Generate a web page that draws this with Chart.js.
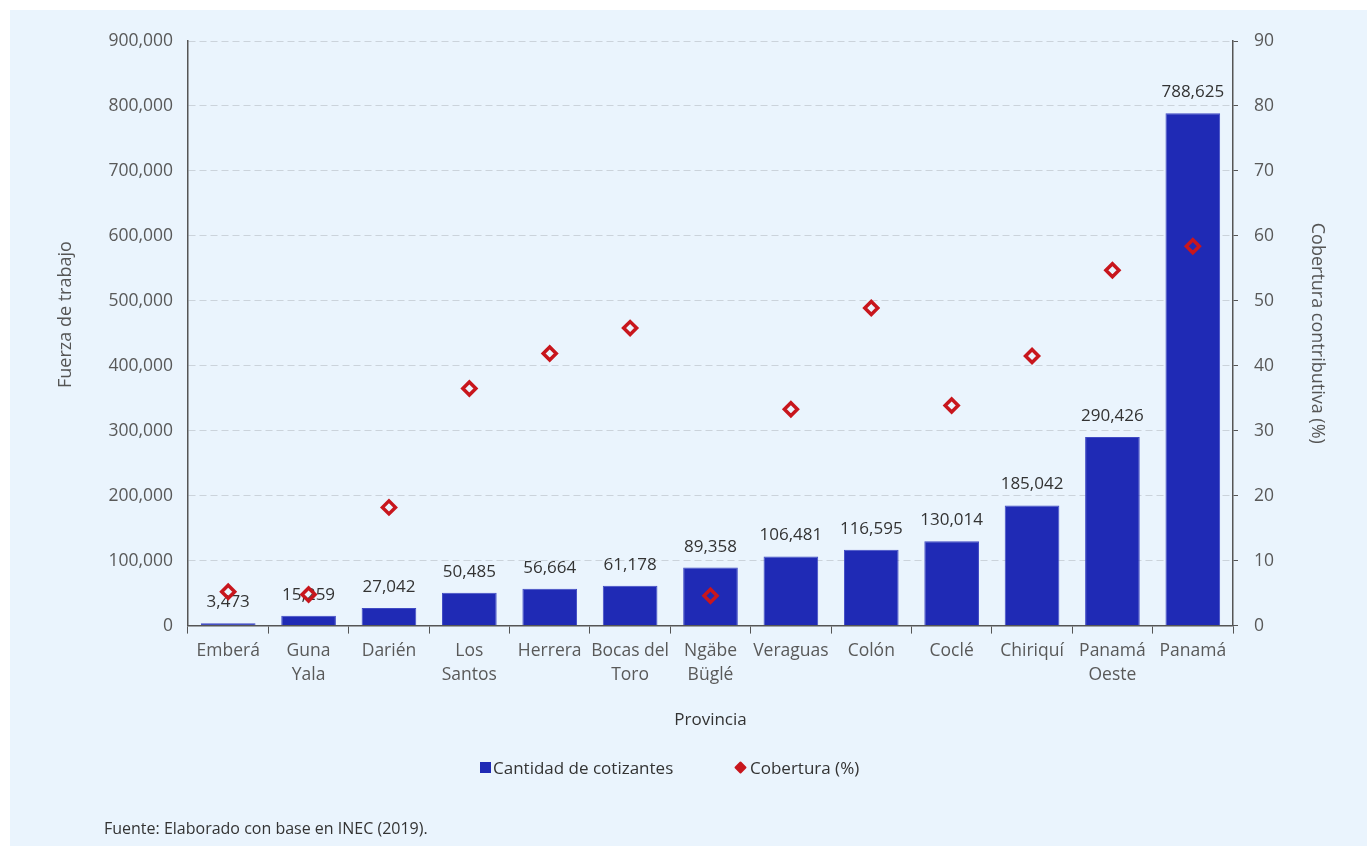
<!DOCTYPE html>
<html>
<head>
<meta charset="utf-8">
<script src="https://cdn.jsdelivr.net/npm/chart.js@4.4.1/dist/chart.umd.min.js"></script>
<style>
  body { margin: 0; background: #ffffff; font-family: "Open Sans", sans-serif; }
  #panel { position: absolute; left: 10px; top: 10px; width: 1357px; height: 836px; background: #eaf4fd; }
  #wrap { position: absolute; left: 0; top: 0; width: 1357px; height: 836px; }
  .leg { position: absolute; top: 746px; font-size: 17px; line-height: 24px; color: #333; white-space: nowrap; }
  .leg i { display: inline-block; vertical-align: middle; position: relative; top: -2px; }
  #leg1 { left: 470px; }
  #leg1 i { width: 11px; height: 11px; background: #1f2ab5; margin-right: 2px; }
  #leg2 { left: 726px; }
  #leg2 i { width: 9px; height: 9px; background: #c8161d; transform: rotate(45deg); margin-right: 5px; border-radius: 1px; }
  #fuente { position: absolute; left: 94px; top: 807px; font-size: 16px; color: #333; }
</style>
</head>
<body>
<div id="panel">
  <div id="wrap"><canvas id="myChart"></canvas></div>
  <div class="leg" id="leg1"><i></i>Cantidad de cotizantes</div>
  <div class="leg" id="leg2"><i></i>Cobertura (%)</div>
  <div id="fuente">Fuente: Elaborado con base en INEC (2019).</div>
</div>
<script>
var provincias = [
  "Emberá", ["Guna", "Yala"], "Darién", ["Los", "Santos"], "Herrera", ["Bocas del", "Toro"],
  ["Ngäbe", "Büglé"], "Veraguas", "Colón", "Coclé", "Chiriquí", ["Panamá", "Oeste"], "Panamá"
]
var cotizantes = [3473, 15259, 27042, 50485, 56664, 61178, 89358, 106481, 116595, 130014, 185042, 290426, 788625]
var cobertura = [5.2, 4.8, 18.2, 36.5, 41.9, 45.8, 4.6, 33.3, 48.9, 33.9, 41.5, 54.7, 58.4]

var azul = "#1f2ab5"
var rojo = "#c8161d"
var gris = "#555555"
var fuente = "'Open Sans'"

// value labels over the bars, drawn before the markers so they sit underneath
var barLabels = {
  id: "barLabels",
  afterDatasetDraw: function(chart, args) {
    if (args.index !== 0) return
    var ctx = chart.ctx
    ctx.save()
    ctx.font = "17px " + fuente
    ctx.fillStyle = "#333333"
    ctx.textAlign = "center"
    ctx.textBaseline = "alphabetic"
    args.meta.data.forEach(function(bar, i) {
      ctx.fillText(cotizantes[i].toLocaleString("en-US"), bar.x, bar.y - 16)
    })
    ctx.restore()
  }
}

var ctx = document.getElementById("myChart").getContext("2d")
var chart = new Chart(ctx, {
  type: "bar",
  data: {
    labels: provincias,
    datasets: [
      {
        label: "Cantidad de cotizantes",
        data: cotizantes,
        backgroundColor: azul,
        borderColor: "#3f4ac4",
        borderWidth: 1,
        barPercentage: 0.68,
        categoryPercentage: 1,
        yAxisID: "y",
        order: 2
      },
      {
        type: "line",
        label: "Cobertura (%)",
        data: cobertura,
        showLine: false,
        pointStyle: "rectRot",
        pointRadius: 6.5,
        pointHoverRadius: 6.5,
        pointBorderWidth: 3.5,
        pointBorderColor: rojo,
        pointBackgroundColor: "rgba(0,0,0,0)",
        yAxisID: "y1",
        order: 1
      }
    ]
  },
  options: {
    responsive: true,
    maintainAspectRatio: false,
    animation: false,
    layout: { padding: { left: 41, right: 35, top: 31, bottom: 116 } },
    plugins: {
      tooltip: { enabled: false },
      legend: { display: false }
    },
    scales: {
      x: {
        grid: { offset: true, drawOnChartArea: false, drawTicks: true, tickLength: 8, color: gris },
        border: { color: gris, width: 1.5 },
        ticks: { color: "#595959", padding: 5, maxRotation: 0, autoSkip: false, font: { family: fuente, size: 17.5, lineHeight: 1.4 } },
        title: { display: true, text: "Provincia", color: "#333333", padding: { top: 17, bottom: 0 }, font: { family: fuente, size: 17 } }
      },
      y: {
        position: "left",
        min: 0,
        max: 900000,
        afterFit: function(scale) { scale.width = 137 },
        grid: { color: "#cbd3db", drawTicks: false },
        border: { color: gris, width: 1.5, dash: [7, 4] },
        ticks: {
          stepSize: 100000,
          padding: 15,
          color: "#595959",
          font: { family: fuente, size: 17.5 },
          callback: function(v) { return v.toLocaleString("en-US") }
        },
        title: { display: true, text: "        Fuerza de trabajo", color: "#555555", font: { family: fuente, size: 18 } }
      },
      y1: {
        position: "right",
        min: 0,
        max: 90,
        afterFit: function(scale) { scale.width = 99 },
        grid: { drawOnChartArea: false, tickLength: 5, color: gris },
        border: { color: gris, width: 1.5 },
        ticks: { stepSize: 10, padding: 16, color: "#595959", font: { family: fuente, size: 17.5 } },
        title: { display: true, text: "Cobertura contributiva (%)", color: "#555555", font: { family: fuente, size: 18 } }
      }
    }
  },
  plugins: [barLabels]
})
</script>
</body>
</html>
